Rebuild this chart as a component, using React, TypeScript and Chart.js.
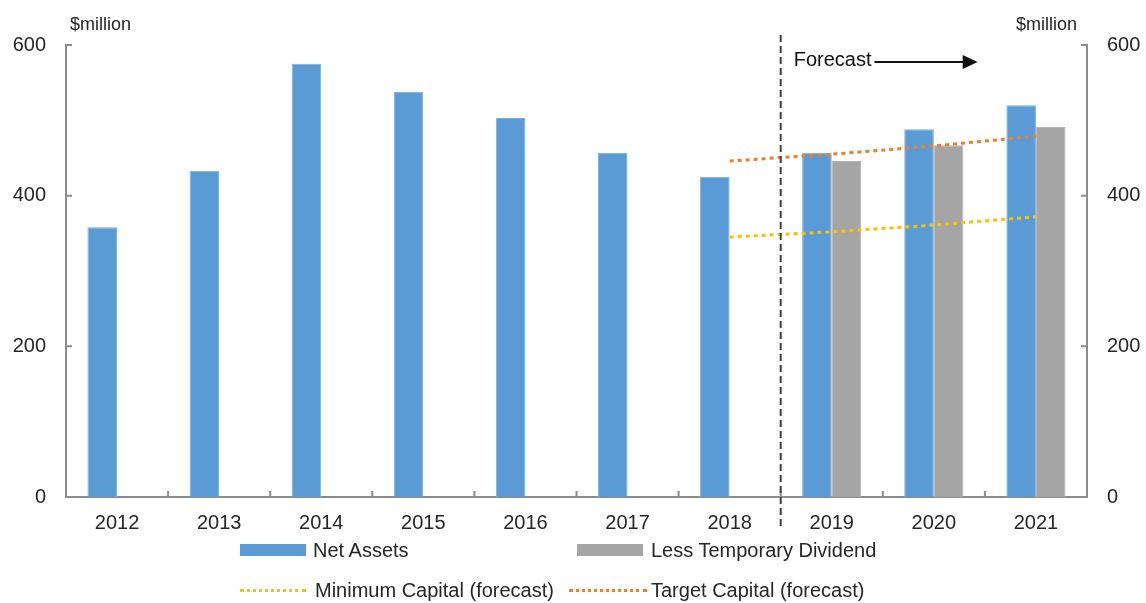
import React, { useEffect, useRef } from "react";
import { Chart, registerables } from "chart.js";

Chart.register(...registerables);

const categories = ["2012", "2013", "2014", "2015", "2016", "2017", "2018", "2019", "2020", "2021"];
const netAssets = [358, 433, 575, 538, 503, 457, 425, 457, 488, 520];
const lessTemporaryDividend = [null, null, null, null, null, null, null, 446, 467, 491];
const minimumCapital = [null, null, null, null, null, null, 345, 352, 361, 372];
const targetCapital = [null, null, null, null, null, null, 446, 455, 466, 479];
const yTicks = [0, 200, 400, 600];
const forecastStartIndex = 7;

const FONT = "'Liberation Sans', Arial, sans-serif";
const TEXT = "#262626";
const AXIS = "#8c8c8c";

const annotPlugin = {
  id: "annot",
  afterDatasetsDraw(chart: any) {
    const { ctx, chartArea, scales } = chart;
    const x = scales.x;
    const yl = scales.y;
    const yr = scales.y2;
    ctx.save();
    // inner ticks
    ctx.strokeStyle = AXIS;
    ctx.lineWidth = 2;
    ctx.beginPath();
    for (let i = 1; i < categories.length; i++) {
      const px = (x.getPixelForValue(i - 1) + x.getPixelForValue(i)) / 2;
      ctx.moveTo(px, chartArea.bottom);
      ctx.lineTo(px, chartArea.bottom - 6);
    }
    for (const v of yTicks) {
      if (v === 0) continue;
      const py = yl.getPixelForValue(v);
      ctx.moveTo(chartArea.left, py);
      ctx.lineTo(chartArea.left + 6, py);
      const py2 = yr.getPixelForValue(v);
      ctx.moveTo(chartArea.right, py2);
      ctx.lineTo(chartArea.right - 6, py2);
    }
    ctx.stroke();

    // forecast divider
    const dx = (x.getPixelForValue(forecastStartIndex - 1) + x.getPixelForValue(forecastStartIndex)) / 2;
    ctx.strokeStyle = "#404040";
    ctx.lineWidth = 2;
    ctx.setLineDash([7, 4]);
    ctx.beginPath();
    ctx.moveTo(dx, chartArea.top - 10);
    ctx.lineTo(dx, chartArea.bottom + 33);
    ctx.stroke();
    ctx.setLineDash([]);

    // Forecast label with arrow
    ctx.fillStyle = "#111";
    ctx.font = `20px ${FONT}`;
    ctx.textBaseline = "middle";
    ctx.textAlign = "left";
    const tx = dx + 13;
    const ty = chartArea.top + 15;
    ctx.fillText("Forecast", tx, ty);
    const tw = ctx.measureText("Forecast").width;
    const ax0 = tx + tw + 3;
    const ax1 = dx + 197;
    ctx.strokeStyle = "#111";
    ctx.lineWidth = 2;
    ctx.beginPath();
    ctx.moveTo(ax0, ty + 2);
    ctx.lineTo(ax1 - 14, ty + 2);
    ctx.stroke();
    ctx.beginPath();
    ctx.moveTo(ax1, ty + 2);
    ctx.lineTo(ax1 - 15, ty - 5);
    ctx.lineTo(ax1 - 15, ty + 9);
    ctx.closePath();
    ctx.fill();

    // unit labels
    ctx.fillStyle = TEXT;
    ctx.font = `18px ${FONT}`;
    ctx.textBaseline = "middle";
    ctx.textAlign = "left";
    ctx.fillText("$million", chartArea.left + 4, chartArea.top - 20);
    ctx.textAlign = "right";
    ctx.fillText("$million", chartArea.right - 10, chartArea.top - 20);
    ctx.restore();
  },
};

export default function App() {
  const ref = useRef<HTMLCanvasElement | null>(null);
  useEffect(() => {
    if (!ref.current) return;
    const chart = new Chart(ref.current, {
      type: "bar",
      data: {
        labels: categories,
        datasets: [
          {
            type: "bar",
            label: "Net Assets",
            data: netAssets,
            backgroundColor: "#5b9bd5",
            borderColor: "#7aaee0",
            borderWidth: 1,
            order: 2,
            categoryPercentage: 0.58,
            barPercentage: 1,
            yAxisID: "y",
          },
          {
            type: "bar",
            label: "Less Temporary Dividend",
            data: lessTemporaryDividend as any,
            backgroundColor: "#a5a5a5",
            borderColor: "#b5b5b5",
            borderWidth: 1,
            order: 2,
            categoryPercentage: 0.58,
            barPercentage: 1,
            yAxisID: "y",
          },
          {
            type: "line",
            label: "Minimum Capital (forecast)",
            data: minimumCapital as any,
            borderColor: "#ffc000",
            borderWidth: 3,
            borderDash: [4, 4],
            pointRadius: 0,
            fill: false,
            order: 0,
            yAxisID: "y",
          },
          {
            type: "line",
            label: "Target Capital (forecast)",
            data: targetCapital as any,
            borderColor: "#ed7d31",
            borderWidth: 3,
            borderDash: [4, 4],
            pointRadius: 0,
            fill: false,
            order: 0,
            yAxisID: "y",
          },
        ],
      },
      options: {
        animation: false,
        responsive: true,
        maintainAspectRatio: false,
        layout: { padding: { top: 45, left: 0, right: 0, bottom: 0 } },
        plugins: { legend: { display: false }, tooltip: { enabled: false }, title: { display: false } },
        scales: {
          x: {
            type: "category",
            offset: true,
            grid: { display: false, drawTicks: false },
            border: { display: true, color: AXIS, width: 2 },
            ticks: { color: TEXT, font: { family: FONT, size: 20 }, padding: 14, maxRotation: 0 },
            afterFit: (s: any) => {
              s.height = 106;
            },
          },
          y: {
            position: "left",
            min: 0,
            max: 600,
            grid: { display: false, drawTicks: false },
            border: { display: true, color: AXIS, width: 2 },
            ticks: { stepSize: 200, color: TEXT, font: { family: FONT, size: 20 }, padding: 20 },
            afterFit: (s: any) => {
              s.width = 66;
            },
          },
          y2: {
            position: "right",
            min: 0,
            max: 600,
            grid: { display: false, drawTicks: false },
            border: { display: true, color: AXIS, width: 2 },
            ticks: { stepSize: 200, color: TEXT, font: { family: FONT, size: 20 }, padding: 20 },
            afterFit: (s: any) => {
              s.width = 59;
            },
          },
        },
      },
      plugins: [annotPlugin],
    } as any);
    return () => chart.destroy();
  }, []);

  const legendText: React.CSSProperties = {
    position: "absolute",
    fontFamily: FONT,
    fontSize: 20,
    color: TEXT,
    lineHeight: "20px",
    whiteSpace: "nowrap",
  };
  const swatch = (left: number, top: number, color: string): React.CSSProperties => ({
    position: "absolute",
    left,
    top,
    width: 66,
    height: 12,
    background: color,
  });
  const dotted = (left: number, top: number, width: number, color: string): React.CSSProperties => ({
    position: "absolute",
    left,
    top,
    width,
    height: 0,
    borderTop: `3px dotted ${color}`,
  });

  return (
    <div style={{ position: "absolute", left: 0, top: 0, width: 1146, height: 603, background: "#fff" }}>
      <canvas ref={ref} style={{ position: "absolute", left: 0, top: 0, width: 1146, height: 603 }} />
      <div style={swatch(240, 544, "#5b9bd5")} />
      <div style={{ ...legendText, left: 313, top: 540 }}>Net Assets</div>
      <div style={swatch(577, 544, "#a5a5a5")} />
      <div style={{ ...legendText, left: 651, top: 540 }}>Less Temporary Dividend</div>
      <div style={dotted(240, 589, 66, "#ffc000")} />
      <div style={{ ...legendText, left: 315, top: 580 }}>Minimum Capital (forecast)</div>
      <div style={dotted(569, 589, 78, "#ed7d31")} />
      <div style={{ ...legendText, left: 651, top: 580 }}>Target Capital (forecast)</div>
    </div>
  );
}
